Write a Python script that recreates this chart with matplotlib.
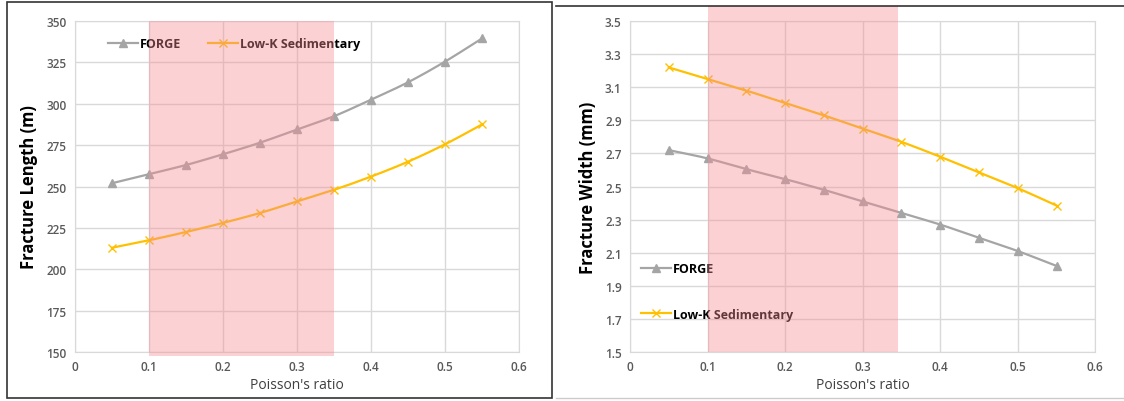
import numpy as np
import matplotlib.pyplot as plt
from matplotlib.patches import Rectangle

plt.rcParams['font.family'] = ['Open Sans', 'DejaVu Sans']

# Poisson's ratio sweep
poisson = [0.05, 0.10, 0.15, 0.20, 0.25, 0.30, 0.35, 0.40, 0.45, 0.50, 0.55]

# Fracture length (m)
length_forge = [252, 257.5, 263, 269.5, 276.5, 284.5, 292.5, 302.5, 313, 325.5, 339.5]
length_lowk = [213, 217.5, 222.5, 228, 234, 241, 248, 256, 265, 275.5, 287.5]

# Fracture width (mm)
width_forge = [2.72, 2.67, 2.605, 2.545, 2.48, 2.41, 2.34, 2.27, 2.19, 2.11, 2.02]
width_lowk = [3.22, 3.15, 3.08, 3.005, 2.93, 2.85, 2.77, 2.68, 2.585, 2.49, 2.385]

GRAY = '#a5a5a5'
ORANGE = '#ffc000'
GRID = '#d9d9d9'
SHADE = '#f58c94'


def smooth(x, y, n=20):
    # Catmull-Rom curve through the points, like Excel's smoothed line
    x = np.asarray(x, float)
    y = np.asarray(y, float)
    px = np.concatenate([[2 * x[0] - x[1]], x, [2 * x[-1] - x[-2]]])
    py = np.concatenate([[2 * y[0] - y[1]], y, [2 * y[-1] - y[-2]]])
    t = np.linspace(0, 1, n, endpoint=False)
    xs, ys = [], []
    for i in range(1, len(px) - 2):
        for p, out in ((px, xs), (py, ys)):
            p0, p1, p2, p3 = p[i - 1], p[i], p[i + 1], p[i + 2]
            out.extend(0.5 * (2 * p1 + (-p0 + p2) * t
                              + (2 * p0 - 5 * p1 + 4 * p2 - p3) * t ** 2
                              + (-p0 + 3 * p1 - 3 * p2 + p3) * t ** 3))
    xs.append(x[-1])
    ys.append(y[-1])
    return xs, ys


def draw(ax, yf, yl, ylim, yticks, fmt, ylabel, shade_to, shade_y0, shade_y1):
    # translucent band laid over the curves
    band = Rectangle((0.1, shade_y0), shade_to - 0.1, shade_y1 - shade_y0,
                     transform=ax.get_xaxis_transform(), color=SHADE,
                     alpha=0.4, lw=0, zorder=6, clip_on=False)
    ax.add_patch(band)
    for y, c, m, ms, lab in ((yf, GRAY, '^', 5.5, 'FORGE'),
                             (yl, ORANGE, 'x', 6, 'Low-K Sedimentary')):
        sx, sy = smooth(poisson, y)
        ax.plot(sx, sy, color=c, lw=1.6, zorder=3)
        ax.plot(poisson, y, ls='none', marker=m, color=c, ms=ms, mew=1.0, zorder=4)
        ax.plot([], [], color=c, lw=1.6, marker=m, ms=ms, mew=1.0, label=lab)
    ax.set_xlim(0, 0.6)
    ax.set_ylim(*ylim)
    ax.set_xticks(np.arange(0, 0.61, 0.1))
    ax.set_xticklabels(['0', '0.1', '0.2', '0.3', '0.4', '0.5', '0.6'])
    ax.set_yticks(yticks)
    ax.set_yticklabels([fmt.format(v) for v in yticks])
    ax.grid(True, color=GRID, lw=1, zorder=1)
    ax.set_axisbelow(True)
    ax.tick_params(length=0, labelsize=8.5, labelcolor='#595959', pad=6)
    for lbl in ax.get_xticklabels() + ax.get_yticklabels():
        lbl.set_fontweight('semibold')
    for s in ax.spines.values():
        s.set_color(GRID)
    ax.set_xlabel("Poisson's ratio", fontsize=10, color='#404040', labelpad=3)
    ax.set_ylabel(ylabel, fontsize=12, fontweight='bold', labelpad=6)


fig = plt.figure(figsize=(11.24, 4.02), dpi=100)

ax1 = fig.add_axes([0.0667, 0.122, 0.395, 0.823])
draw(ax1, length_forge, length_lowk, (150, 350), np.arange(150, 351, 25),
     '{:.0f}', 'Fracture Length (m)', 0.35, -0.012, 1.0)
leg1 = ax1.legend(loc='upper left', bbox_to_anchor=(0.05, 0.985), ncol=2,
                  frameon=False, fontsize=9, columnspacing=2.2,
                  handlelength=2.4, handletextpad=0.1)

ax2 = fig.add_axes([0.5605, 0.122, 0.414, 0.823])
draw(ax2, width_forge, width_lowk, (1.5, 3.5), np.arange(1.5, 3.51, 0.2),
     '{:.1f}', 'Fracture Width (mm)', 0.345, 0.0, 1.045)
leg2 = ax2.legend(loc='lower left', bbox_to_anchor=(0.0, 0.06),
                  frameon=False, fontsize=9, labelspacing=2.6,
                  handlelength=2.4, handletextpad=0.1)

for leg in (leg1, leg2):
    leg.set_zorder(3)
    for t in leg.get_texts():
        t.set_fontweight('bold')

# panel frames
fig.add_artist(Rectangle((7 / 1124, 3 / 402), 545 / 1124, 396 / 402,
                         transform=fig.transFigure, fill=False,
                         ec='#333333', lw=1.2))
fig.add_artist(plt.Line2D([556 / 1124, 1], [1 - 7 / 402, 1 - 7 / 402],
                          transform=fig.transFigure, color='#333333', lw=1.2))
fig.add_artist(plt.Line2D([556 / 1124, 1], [3 / 402, 3 / 402],
                          transform=fig.transFigure, color='#cccccc', lw=1))

fig.savefig('out.png', dpi=100)
